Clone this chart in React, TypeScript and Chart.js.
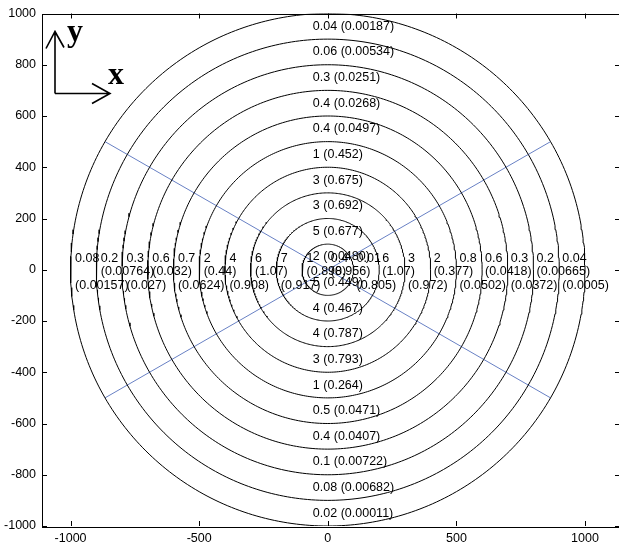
import { useEffect, useRef } from 'react';
import { Chart, registerables } from 'chart.js';

Chart.register(...registerables);

// ---- data ----
const ringRadii = [100, 200, 300, 400, 500, 600, 700, 800, 900, 1000];
const spokeAnglesDeg = [30, 150];
const xTickValues = [-1000, -500, 0, 500, 1000];
const yTickValues = [-1000, -800, -600, -400, -200, 0, 200, 400, 600, 800, 1000];

// labels per ring, inner -> outer
const topLabels = ['2 (0.0480)', '5 (0.677)', '3 (0.692)', '3 (0.675)', '1 (0.452)', '0.4 (0.0497)', '0.4 (0.0268)', '0.3 (0.0251)', '0.06 (0.00534)', '0.04 (0.00187)'];
const bottomLabels = ['5 (0.449)', '4 (0.467)', '4 (0.787)', '3 (0.793)', '1 (0.264)', '0.5 (0.0471)', '0.4 (0.0407)', '0.1 (0.00722)', '0.08 (0.00682)', '0.02 (0.00011)'];
const leftValues = ['1', '7', '6', '4', '2', '0.7', '0.6', '0.3', '0.2', '0.08'];
const leftParens = ['(0.898)', '(0.917)', '(1.07)', '(0.908)', '(0.44)', '(0.0624)', '(0.032)', '(0.027)', '(0.00764)', '(0.00157)'];
const rightValues = ['0.4', '0.01', '6', '3', '2', '0.8', '0.6', '0.3', '0.2', '0.04'];
const rightParens = ['(0.956)', '(0.805)', '(1.07)', '(0.972)', '(0.377)', '(0.0502)', '(0.0418)', '(0.0372)', '(0.00665)', '(0.0005)'];

const FONT = '"Liberation Sans", Arial, Helvetica, sans-serif';

function circlePoints(r: number) {
  const pts: { x: number; y: number }[] = [];
  for (let i = 0; i <= 360; i++) {
    const a = (i * Math.PI) / 180;
    pts.push({ x: r * Math.cos(a), y: r * Math.sin(a) });
  }
  return pts;
}

const overlayPlugin = {
  id: 'overlay',
  afterDatasetsDraw(chart: any) {
    const ctx = chart.ctx as CanvasRenderingContext2D;
    const ca = chart.chartArea;
    const xs = chart.scales.x;
    const ys = chart.scales.y;
    ctx.save();
    ctx.fillStyle = '#000';
    ctx.font = `12.5px ${FONT}`;
    ctx.textAlign = 'left';
    ctx.textBaseline = 'middle';

    // vertical labels
    ringRadii.forEach((r, i) => {
      const inner = i === 0 ? 0 : ringRadii[i - 1];
      const mid = (inner + r) / 2;
      const x = xs.getPixelForValue(-58);
      ctx.fillText(topLabels[i], x, ys.getPixelForValue(mid));
      ctx.fillText(bottomLabels[i], x, ys.getPixelForValue(-mid));
    });

    // horizontal labels
    const y0 = ys.getPixelForValue(0);
    const rowY = [y0 - 11.5, y0 + 2, y0 + 15.5];
    ringRadii.forEach((r, i) => {
      const inner = i === 0 ? 0 : ringRadii[i - 1];
      const parenRow = i % 2 === 0 ? 1 : 2;
      const lx = xs.getPixelForValue(-r) + 4.5;
      ctx.fillText(leftValues[i], lx, rowY[0]);
      ctx.fillText(leftParens[i], lx, rowY[parenRow]);
      const rx = xs.getPixelForValue(inner) + 3;
      ctx.fillText(rightValues[i], rx, rowY[0]);
      ctx.fillText(rightParens[i], rx, rowY[parenRow]);
    });

    // frame
    ctx.strokeStyle = '#000';
    ctx.lineWidth = 1;
    ctx.strokeRect(Math.round(ca.left) + 0.5, Math.round(ca.top) + 0.5, Math.round(ca.right - ca.left), Math.round(ca.bottom - ca.top));

    // inward ticks
    ctx.beginPath();
    xTickValues.forEach((v) => {
      const px = Math.round(xs.getPixelForValue(v)) + 0.5;
      ctx.moveTo(px, ca.bottom);
      ctx.lineTo(px, ca.bottom - 5);
      ctx.moveTo(px, ca.top);
      ctx.lineTo(px, ca.top + 5);
    });
    yTickValues.forEach((v) => {
      const py = Math.round(ys.getPixelForValue(v)) + 0.5;
      ctx.moveTo(ca.left, py);
      ctx.lineTo(ca.left + 5, py);
      ctx.moveTo(ca.right, py);
      ctx.lineTo(ca.right - 5, py);
    });
    ctx.stroke();

    // axis-direction annotation
    const L = ca.left;
    const T = ca.top;
    ctx.lineWidth = 1.6;
    ctx.beginPath();
    ctx.moveTo(L + 13, T + 80);
    ctx.lineTo(L + 13, T + 18);
    ctx.moveTo(L + 4, T + 35);
    ctx.lineTo(L + 13, T + 18);
    ctx.lineTo(L + 22, T + 34);
    ctx.moveTo(L + 13, T + 80);
    ctx.lineTo(L + 68, T + 80);
    ctx.moveTo(L + 50, T + 70);
    ctx.lineTo(L + 68, T + 80);
    ctx.lineTo(L + 50, T + 90);
    ctx.stroke();
    ctx.font = `bold 32px "Liberation Serif", "Times New Roman", serif`;
    ctx.textBaseline = 'alphabetic';
    ctx.fillText('y', L + 25, T + 27);
    ctx.fillText('x', L + 66, T + 70);
    ctx.restore();
  },
};

export default function App() {
  const ref = useRef<HTMLCanvasElement | null>(null);
  useEffect(() => {
    document.body.style.margin = '0';
    const canvas = ref.current;
    if (!canvas) return;
    const datasets: any[] = [];
    ringRadii.forEach((r) => {
      datasets.push({
        data: circlePoints(r),
        showLine: true,
        borderColor: '#000',
        borderWidth: 1,
        pointRadius: 0,
        fill: false,
        tension: 0,
      });
    });
    const outer = ringRadii[ringRadii.length - 1];
    spokeAnglesDeg.forEach((deg) => {
      const a = (deg * Math.PI) / 180;
      datasets.push({
        data: [
          { x: -outer * Math.cos(a), y: -outer * Math.sin(a) },
          { x: outer * Math.cos(a), y: outer * Math.sin(a) },
        ],
        showLine: true,
        borderColor: 'rgb(104,128,196)',
        borderWidth: 1,
        pointRadius: 0,
        fill: false,
      });
    });
    const chart = new Chart(canvas, {
      type: 'scatter',
      data: { datasets },
      plugins: [overlayPlugin],
      options: {
        animation: false,
        responsive: false,
        maintainAspectRatio: false,
        layout: { padding: { left: 0, top: 13, right: 5, bottom: 0 } },
        plugins: { legend: { display: false }, tooltip: { enabled: false } },
        scales: {
          x: {
            type: 'linear',
            min: -1111,
            max: 1136,
            grid: { display: false, drawTicks: false },
            border: { display: false },
            afterBuildTicks: (s: any) => {
              s.ticks = xTickValues.map((v) => ({ value: v }));
            },
            afterFit: (s: any) => {
              s.height = 21;
            },
            ticks: {
              color: '#000',
              padding: 5,
              maxRotation: 0,
              autoSkip: false,
              font: { size: 12.5, family: FONT },
              callback: (v: any) => String(v),
            },
          },
          y: {
            type: 'linear',
            min: -1000,
            max: 1000,
            grid: { display: false, drawTicks: false },
            border: { display: false },
            afterBuildTicks: (s: any) => {
              s.ticks = yTickValues.map((v) => ({ value: v }));
            },
            afterFit: (s: any) => {
              s.width = 42;
            },
            ticks: {
              color: '#000',
              padding: 6,
              autoSkip: false,
              font: { size: 12.5, family: FONT },
              callback: (v: any) => String(v),
            },
          },
        },
      },
    });
    return () => chart.destroy();
  }, []);
  return (
    <div style={{ position: 'absolute', left: 0, top: 0, width: 619, height: 547, overflow: 'hidden', background: '#fff' }}>
      <canvas ref={ref} width={625} height={547} style={{ width: 625, height: 547, display: 'block' }} />
    </div>
  );
}
